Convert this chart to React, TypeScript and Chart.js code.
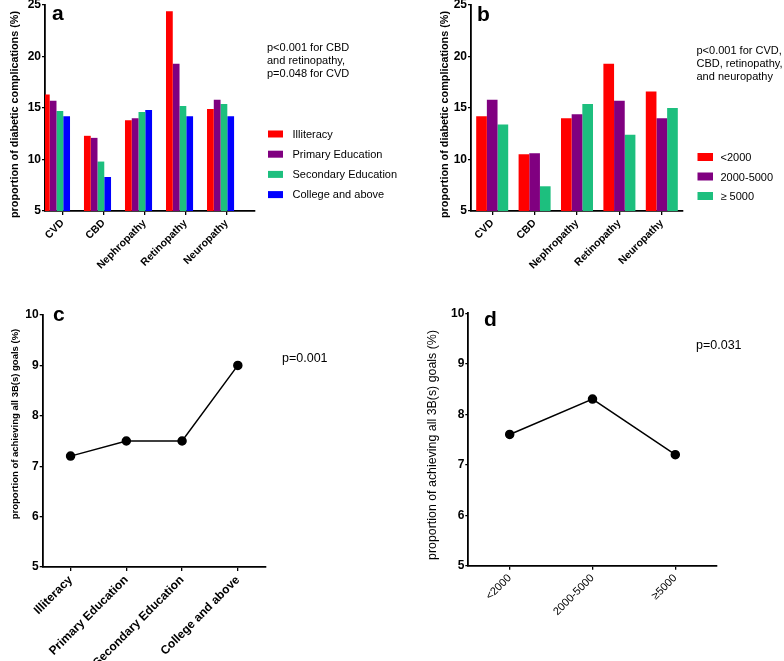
import React, { useEffect, useRef } from "react";
import { Chart, registerables } from "chart.js";

Chart.register(...registerables);

// ---------- data ----------
const complications = ["CVD", "CBD", "Nephropathy", "Retinopathy", "Neuropathy"];

const eduGroups = ["Illiteracy", "Primary Education", "Secondary Education", "College and above"];
const eduIlliteracy = [16.3, 12.3, 13.8, 24.4, 14.9];
const eduPrimary = [15.7, 12.1, 14.0, 19.3, 15.8];
const eduSecondary = [14.7, 9.8, 14.6, 15.2, 15.4];
const eduCollege = [14.2, 8.3, 14.8, 14.2, 14.2];

const incomeGroups = ["<2000", "2000-5000", "\u2265 5000"];
const incLow = [14.2, 10.5, 14.0, 19.3, 16.6];
const incMid = [15.8, 10.6, 14.4, 15.7, 14.0];
const incHigh = [13.4, 7.4, 15.4, 12.4, 15.0];

const goalEduCats = ["Illiteracy", "Primary Education", "Secondary Education", "College and above"];
const goalEduVals = [7.2, 7.5, 7.5, 9.0];

const goalIncCats = ["<2000", "2000-5000", "\u22655000"];
const goalIncVals = [7.6, 8.3, 7.2];

const barYTicks = [5, 10, 15, 20, 25];
const lineYTicks = [5, 6, 7, 8, 9, 10];

const notesA = ["p<0.001 for CBD", "and retinopathy,", "p=0.048 for CVD"];
const notesB = ["p<0.001 for CVD,", "CBD, retinopathy,", "and neuropathy"];
const notesC = ["p=0.001"];
const notesD = ["p=0.031"];

const titleBars = "proportion of diabetic complications (%)";
const titleGoals = "proportion of achieving all 3B(s) goals (%)";

// ---------- styles ----------
const FONT = "'Liberation Sans', Arial, Helvetica, sans-serif";
const RED = "#FF0000";
const PURPLE = "#800080";
const GREEN = "#1DBF7E";
const BLUE = "#0000FF";

const fixBox = (w?: number, h?: number) => (scale: any) => {
  if (w !== undefined) scale.width = w;
  if (h !== undefined) scale.height = h;
  scale.paddingLeft = 0;
  scale.paddingRight = 0;
  scale.paddingTop = 0;
  scale.paddingBottom = 0;
};

const axisGrid = (len: number) => ({
  display: true,
  drawOnChartArea: false,
  drawTicks: true,
  tickLength: len,
  color: "#000",
  lineWidth: 1.3,
  offset: false,
});

const axisBorder = { display: true, color: "#000", width: 1.8 };

function annotPlugin(cfg: any) {
  return {
    id: "annot",
    afterDraw(chart: any) {
      const ctx = chart.ctx as CanvasRenderingContext2D;
      ctx.save();
      ctx.fillStyle = "#000";
      ctx.textAlign = "left";
      ctx.textBaseline = "alphabetic";
      ctx.font = `bold 21px ${FONT}`;
      ctx.fillText(cfg.letter, cfg.letterX, cfg.letterY);
      ctx.font = `${cfg.noteSize}px ${FONT}`;
      cfg.notes.forEach((t: string, i: number) => ctx.fillText(t, cfg.noteX, cfg.noteY + i * cfg.noteGap));
      if (cfg.legend) {
        const L = cfg.legend;
        ctx.font = `${L.size}px ${FONT}`;
        chart.data.datasets.forEach((ds: any, i: number) => {
          const base = L.y + i * L.gap;
          ctx.fillStyle = ds.backgroundColor;
          ctx.fillRect(L.boxX, base - L.boxH, L.boxW, L.boxH);
          ctx.fillStyle = "#000";
          ctx.fillText(ds.label, L.textX, base);
        });
      }
      if (cfg.yTitle) {
        const T = cfg.yTitle;
        ctx.save();
        ctx.translate(T.x, T.y);
        ctx.rotate(-Math.PI / 2);
        ctx.textAlign = "center";
        ctx.textBaseline = "middle";
        ctx.font = T.font;
        ctx.fillStyle = "#000";
        ctx.fillText(T.text, 0, 0);
        ctx.restore();
      }
      ctx.restore();
    },
  };
}

const yTicksCfg = (size: number, weight: string) => ({
  color: "#000",
  font: { family: FONT, size, weight },
  padding: 1,
});

// ---------- configs ----------
const TICK_SHIFT = 0.15;

function configA(): any {
  const mk = (label: string, vals: number[], color: string) => ({
    label,
    data: vals.map((v, i) => ({ x: i, y: v })),
    backgroundColor: color,
    borderWidth: 0,
    categoryPercentage: 0.66,
    barPercentage: 1,
  });
  return {
    type: "bar",
    data: {
      datasets: [
        mk(eduGroups[0], eduIlliteracy, RED),
        mk(eduGroups[1], eduPrimary, PURPLE),
        mk(eduGroups[2], eduSecondary, GREEN),
        mk(eduGroups[3], eduCollege, BLUE),
      ],
    },
    options: {
      responsive: false,
      animation: false,
      devicePixelRatio: 1,
      layout: { padding: { top: 5, right: 165, left: 0, bottom: 0 } },
      plugins: { legend: { display: false }, tooltip: { enabled: false } },
      scales: {
        x: {
          type: "linear",
          min: -0.28,
          max: 4.84,
          offset: false,
          grid: axisGrid(4),
          border: axisBorder,
          afterBuildTicks: (s: any) => {
            s.ticks = complications.map((_, i) => ({ value: i + TICK_SHIFT }));
          },
          afterFit: fixBox(undefined, 89),
          ticks: {
            autoSkip: false,
            minRotation: 45,
            maxRotation: 45,
            padding: 2,
            color: "#000",
            font: { family: FONT, size: 10.5, weight: "bold" },
            callback: (_v: any, i: number) => complications[i],
          },
        },
        y: {
          min: 5,
          max: 25,
          grid: axisGrid(3),
          border: axisBorder,
          afterBuildTicks: (s: any) => {
            s.ticks = barYTicks.map((v) => ({ value: v }));
          },
          afterFit: fixBox(45, undefined),
          ticks: yTicksCfg(12, "bold"),
          title: { display: false },
        },
      },
    },
    plugins: [
      annotPlugin({
        letter: "a",
        letterX: 52,
        letterY: 20,
        notes: notesA,
        noteSize: 11,
        noteX: 267,
        noteY: 51,
        noteGap: 13,
        legend: { size: 11, boxX: 268, boxW: 15, boxH: 7, textX: 292.5, y: 137.5, gap: 20.2 },
        yTitle: { text: titleBars, x: 15.5, y: 114.5, font: `bold 10.8px ${FONT}` },
      }),
    ],
  };
}

function configB(): any {
  const mk = (label: string, vals: number[], color: string) => ({
    label,
    data: vals,
    backgroundColor: color,
    borderWidth: 0,
    categoryPercentage: 0.755,
    barPercentage: 1,
  });
  return {
    type: "bar",
    data: {
      labels: complications,
      datasets: [mk(incomeGroups[0], incLow, RED), mk(incomeGroups[1], incMid, PURPLE), mk(incomeGroups[2], incHigh, GREEN)],
    },
    options: {
      responsive: false,
      animation: false,
      devicePixelRatio: 1,
      layout: { padding: { top: 5, right: 101, left: 0, bottom: 0 } },
      plugins: { legend: { display: false }, tooltip: { enabled: false } },
      scales: {
        x: {
          type: "category",
          offset: true,
          grid: axisGrid(4),
          border: axisBorder,
          afterFit: fixBox(undefined, 89),
          ticks: {
            autoSkip: false,
            minRotation: 45,
            maxRotation: 45,
            padding: 2,
            color: "#000",
            font: { family: FONT, size: 10.5, weight: "bold" },
          },
        },
        y: {
          min: 5,
          max: 25,
          grid: axisGrid(3),
          border: axisBorder,
          afterBuildTicks: (s: any) => {
            s.ticks = barYTicks.map((v) => ({ value: v }));
          },
          afterFit: fixBox(79, undefined),
          ticks: yTicksCfg(12, "bold"),
          title: { display: false },
        },
      },
    },
    plugins: [
      annotPlugin({
        letter: "b",
        letterX: 85,
        letterY: 20.5,
        notes: notesB,
        noteSize: 11,
        noteX: 304.5,
        noteY: 53.5,
        noteGap: 13,
        legend: { size: 11, boxX: 305.5, boxW: 15.5, boxH: 8, textX: 328.5, y: 161, gap: 19.5 },
        yTitle: { text: titleBars, x: 53, y: 114.5, font: `bold 10.8px ${FONT}` },
      }),
    ],
  };
}

function lineConfig(
  cats: string[],
  vals: number[],
  yW: number,
  xH: number,
  padTop: number,
  padRight: number,
  xFont: any,
  ann: any
): any {
  return {
    type: "line",
    data: {
      labels: cats,
      datasets: [
        {
          label: "achieving",
          data: vals,
          borderColor: "#000",
          borderWidth: 1.5,
          pointRadius: 4,
          pointBackgroundColor: "#000",
          pointBorderColor: "#000",
          fill: false,
          tension: 0,
        },
      ],
    },
    options: {
      responsive: false,
      animation: false,
      devicePixelRatio: 1,
      layout: { padding: { top: padTop, right: padRight, left: 0, bottom: 0 } },
      plugins: { legend: { display: false }, tooltip: { enabled: false } },
      scales: {
        x: {
          type: "category",
          offset: true,
          grid: axisGrid(4),
          border: axisBorder,
          afterFit: fixBox(undefined, xH),
          ticks: {
            autoSkip: false,
            minRotation: 45,
            maxRotation: 45,
            padding: 2,
            color: "#000",
            font: xFont,
          },
        },
        y: {
          min: 5,
          max: 10,
          grid: axisGrid(3),
          border: axisBorder,
          afterBuildTicks: (s: any) => {
            s.ticks = lineYTicks.map((v) => ({ value: v }));
          },
          afterFit: fixBox(yW, undefined),
          ticks: yTicksCfg(12, "bold"),
          title: { display: false },
        },
      },
    },
    plugins: [annotPlugin(ann)],
  };
}

function configC(): any {
  return lineConfig(
    goalEduCats,
    goalEduVals,
    42.7,
    94,
    15,
    126.3,
    { family: FONT, size: 12, weight: "bold" },
    {
      letter: "c",
      letterX: 53,
      letterY: 20.5,
      notes: notesC,
      noteSize: 12.5,
      noteX: 282,
      noteY: 62,
      noteGap: 14,
      yTitle: { text: titleGoals, x: 15, y: 124, font: `bold 9.5px ${FONT}` },
    }
  );
}

function configD(): any {
  return lineConfig(
    goalIncCats,
    goalIncVals,
    76.3,
    95.3,
    13.3,
    67.3,
    { family: FONT, size: 11, weight: "normal" },
    {
      letter: "d",
      letterX: 92,
      letterY: 26,
      notes: notesD,
      noteSize: 12.5,
      noteX: 304,
      noteY: 49,
      noteGap: 14,
      yTitle: { text: titleGoals, x: 41, y: 145, font: `12.4px ${FONT}` },
    }
  );
}

// ---------- components ----------
function Panel({ make, left, top, width, height }: { make: () => any; left: number; top: number; width: number; height: number }) {
  const ref = useRef<HTMLCanvasElement>(null);
  useEffect(() => {
    const chart = new Chart(ref.current as HTMLCanvasElement, make());
    return () => chart.destroy();
  }, [make]);
  return (
    <canvas
      ref={ref}
      width={width}
      height={height}
      style={{ position: "absolute", left, top, width, height, display: "block" }}
    />
  );
}

export default function App() {
  useEffect(() => {
    document.body.style.margin = "0";
    document.body.style.background = "#fff";
  }, []);
  return (
    <div style={{ position: "relative", width: 784, height: 661, background: "#fff", overflow: "hidden" }}>
      <Panel make={configB} left={392} top={0} width={392} height={300} />
      <Panel make={configA} left={0} top={0} width={420} height={300} />
      <Panel make={configC} left={0} top={300} width={392} height={361} />
      <Panel make={configD} left={392} top={300} width={392} height={361} />
    </div>
  );
}
